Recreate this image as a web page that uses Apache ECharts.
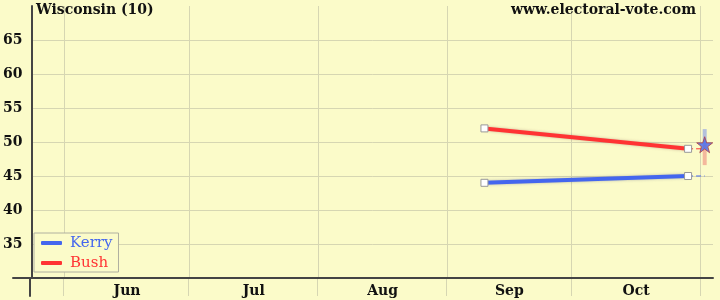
<!DOCTYPE html>
<html><head><meta charset="utf-8">
<script src="https://cdn.jsdelivr.net/npm/echarts@6/dist/echarts.min.js"></script>
<style>html,body{margin:0;padding:0;background:#fbfbc9}#c{width:720px;height:300px}</style>
</head><body><div id="c"></div>
<script>
var titleText = 'Wisconsin (10)';
var siteText = 'www.electoral-vote.com';
var pollDates = ['2004-09-10', '2004-10-29'];
var kerry = [44, 45];
var bush = [52, 49];
var electionDate = '2004-11-02';
var predKerry = 49.6;
var kerryRange = [49.6, 51.9];
var bushRange = [46.6, 49.6];
var axisStart = '2004-05-24';
var axisEnd = '2004-11-04';
var monthStarts = ['2004-06-01', '2004-07-01', '2004-08-01', '2004-09-01', '2004-10-01', '2004-11-01'];
var monthLabels = ['Jun', 'Jul', 'Aug', 'Sep', 'Oct'];
var yTicks = [35, 40, 45, 50, 55, 60, 65];
var yMin = 30, yMax = 70;

function doy(s) {
  var p = s.split('-').map(Number);
  return (Date.UTC(p[0], p[1] - 1, p[2]) - Date.UTC(p[0], 0, 1)) / 86400000;
}
var xMin = doy(axisStart), xMax = doy(axisEnd);
var starts = monthStarts.map(doy);
var mids = [], midMap = {};
for (var i = 0; i < monthLabels.length; i++) {
  var m = (starts[i] + starts[i + 1]) / 2;
  mids.push(m); midMap[m] = monthLabels[i];
}
var blue = '#4466ee', red = '#ff3333';
var font = 'DejaVu Serif';
var gridCol = '#d6d6b2';
var axisCol = '#444';
var eDay = doy(electionDate);
var lastX = doy(pollDates[pollDates.length - 1]);

function pts(vals) { return pollDates.map(function (d, i) { return [doy(d), vals[i]]; }); }
var starPath = 'path://M50,0 L61.8,35.5 L98.1,35.5 L68.8,57.4 L79.4,92.7 L50,71 L20.6,92.7 L31.2,57.4 L1.9,35.5 L38.2,35.5 Z';

var chart = echarts.init(document.getElementById('c'), null, {renderer: 'canvas'});
chart.setOption({
  backgroundColor: '#fbfbc9',
  animation: false,
  title: [
    {text: titleText, left: 36, top: 3, padding: 0, textStyle: {fontFamily: font, fontWeight: 'bold', fontSize: 14, color: '#111'}},
    {text: siteText, right: 24, top: 3, padding: 0, textStyle: {fontFamily: font, fontWeight: 'bold', fontSize: 14, color: '#111'}}
  ],
  legend: {
    orient: 'vertical', left: 34, top: 233, padding: [2, 6, 1, 7], itemGap: 4,
    itemWidth: 21, itemHeight: 4, icon: 'roundRect',
    borderColor: '#b0b0a0', borderWidth: 1, backgroundColor: '#fbfbc9',
    textStyle: {fontFamily: font, fontSize: 15, lineHeight: 16, padding: [0, 0, 0, 3]},
    data: [
      {name: 'Kerry', textStyle: {color: blue}, itemStyle: {color: blue, borderWidth: 0}},
      {name: 'Bush', textStyle: {color: red}, itemStyle: {color: red, borderWidth: 0}}
    ]
  },
  grid: [
    {left: 30, right: 7, top: 6, bottom: 22},
    {left: 30, right: 7, top: 278, bottom: 4},
    {left: 13, width: 17, top: 6, bottom: 22}
  ],
  xAxis: [
    {type: 'value', gridIndex: 0, min: xMin, max: xMax,
     axisLine: {show: true, lineStyle: {color: axisCol, width: 2}},
     axisTick: {show: false, customValues: starts},
     splitLine: {show: true, lineStyle: {color: gridCol, width: 1}},
     axisLabel: {customValues: mids, margin: 6, fontFamily: font, fontWeight: 'bold', fontSize: 14, color: '#111',
       formatter: function (v) { return midMap[v] || ''; }}},
    {type: 'value', gridIndex: 1, min: xMin, max: xMax,
     axisLine: {show: false}, axisTick: {show: false, customValues: starts}, axisLabel: {show: false},
     splitLine: {show: true, lineStyle: {color: gridCol, width: 1}}},
    {type: 'value', gridIndex: 2, min: 0, max: 1,
     axisLine: {show: true, lineStyle: {color: axisCol, width: 2}}, axisTick: {show: false}, axisLabel: {show: false}, splitLine: {show: false}}
  ],
  yAxis: [
    {type: 'value', gridIndex: 0, min: yMin, max: yMax, interval: 5,
     axisLine: {show: true, lineStyle: {color: axisCol, width: 2}},
     axisTick: {show: false, customValues: yTicks},
     splitLine: {show: true, lineStyle: {color: gridCol, width: 1}},
     axisLabel: {customValues: yTicks, margin: 9, fontFamily: font, fontWeight: 'bold', fontSize: 14, color: '#111'}},
    {type: 'value', gridIndex: 1, min: 0, max: 1,
     axisLine: {show: true, lineStyle: {color: axisCol, width: 2}}, axisTick: {show: false}, axisLabel: {show: false}, splitLine: {show: false}},
    {type: 'value', gridIndex: 2, min: yMin, max: yMax, show: false, splitLine: {show: false}}
  ],
  series: [
    {name: 'Kerry', type: 'line', data: pts(kerry), color: blue,
     lineStyle: {width: 4, color: blue, shadowBlur: 3, shadowColor: 'rgba(60,60,120,0.35)'},
     symbol: 'rect', symbolSize: 7, showAllSymbol: true,
     itemStyle: {color: '#fff', borderColor: '#999', borderWidth: 1}, z: 3},
    {name: 'Bush', type: 'line', data: pts(bush), color: red,
     lineStyle: {width: 4, color: red, shadowBlur: 3, shadowColor: 'rgba(120,60,60,0.35)'},
     symbol: 'rect', symbolSize: 7, showAllSymbol: true,
     itemStyle: {color: '#fff', borderColor: '#999', borderWidth: 1}, z: 3},
    {type: 'line', data: [[lastX, kerry[kerry.length - 1]], [eDay, kerry[kerry.length - 1]]], symbol: 'none',
     lineStyle: {width: 1, type: [5, 3], color: blue}, z: 2},
    {type: 'line', data: [[lastX, bush[bush.length - 1]], [eDay, bush[bush.length - 1]]], symbol: 'none',
     lineStyle: {width: 1, type: [5, 3], color: red}, z: 2},
    {type: 'line', data: [[eDay, kerryRange[0]], [eDay, kerryRange[1]]], symbol: 'none',
     lineStyle: {width: 4, color: '#b4c0dc'}, z: 4},
    {type: 'line', data: [[eDay, bushRange[0]], [eDay, bushRange[1]]], symbol: 'none',
     lineStyle: {width: 4, color: '#f4b89c'}, z: 4},
    {type: 'scatter', data: [[eDay, predKerry]], symbol: starPath, symbolSize: 16,
     itemStyle: {color: blue, borderColor: '#b04040', borderWidth: 1}, z: 6}
  ]
});
</script></body></html>
